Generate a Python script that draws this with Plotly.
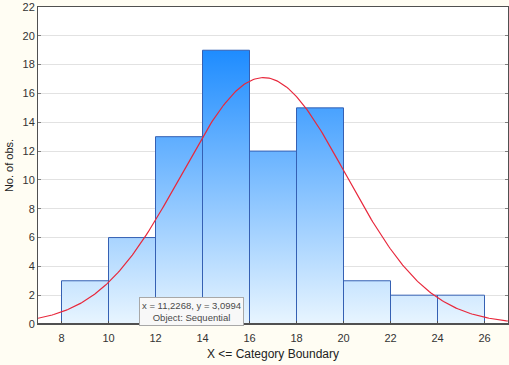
import numpy as np
import plotly.graph_objects as go

# ---- data ----
bin_edges = [8, 10, 12, 14, 16, 18, 20, 22, 24, 26]
counts = [3, 6, 13, 19, 12, 15, 3, 2, 2]
x_ticks = [8, 10, 12, 14, 16, 18, 20, 22, 24, 26]
y_ticks = [0, 2, 4, 6, 8, 10, 12, 14, 16, 18, 20, 22]
fit_mean = 16.6
fit_sd = 3.5
n_obs = sum(counts)
bin_width = 2
tooltip_x = 11.2268
tooltip_y = 3.0994

# bar outlines built from bin edges and counts
bx, by = [], []
for i, c in enumerate(counts):
    l, r = bin_edges[i], bin_edges[i + 1]
    bx += [l, l, r, r, l, None]
    by += [0, c, c, 0, 0, None]

# fitted normal curve
xc = np.linspace(7, 27, 300)
yc = n_obs * bin_width / (fit_sd * np.sqrt(2 * np.pi)) * np.exp(-0.5 * ((xc - fit_mean) / fit_sd) ** 2)

fig = go.Figure()
fig.add_trace(go.Scatter(
    x=bx, y=by, mode="lines", fill="toself",
    line=dict(color="#3560b3", width=1),
    fillgradient=dict(type="vertical", start=0, stop=max(counts),
                      colorscale=[[0, "#e8f5ff"], [1, "#1e8cff"]]),
    hoverinfo="skip", showlegend=False,
))
fig.add_trace(go.Scatter(
    x=xc, y=yc, mode="lines", line=dict(color="#e8283c", width=1.2),
    hoverinfo="skip", showlegend=False,
))

fig.add_annotation(
    x=11.3, y=1.85, xref="x", yref="y", xanchor="left", yanchor="top",
    text=f"x = {str(tooltip_x).replace('.', ',')}, y = {str(tooltip_y).replace('.', ',')}<br>Object: Sequential",
    showarrow=False, align="center",
    font=dict(family="Liberation Sans, Arial", size=9.5, color="#4a4a4a"),
    bgcolor="#f8f8f8", bordercolor="#a8a8a8", borderwidth=1, borderpad=2,
)

# thicker bottom axis line
fig.add_shape(type="line", xref="paper", yref="y", x0=0, x1=1, y0=0, y1=0,
              line=dict(color="#505050", width=2))

axis_font = dict(family="Liberation Sans, Arial", size=11, color="#333333")
fig.update_layout(
    width=509, height=365,
    margin=dict(l=38, r=1, t=7, b=41),
    paper_bgcolor="#fffdf3", plot_bgcolor="#ffffff",
    xaxis=dict(range=[7, 27], tickvals=x_ticks, showgrid=False, zeroline=False,
               showline=True, linecolor="#505050", linewidth=1, mirror=True,
               ticks="inside", ticklen=3, tickcolor="#505050",
               tickfont=axis_font, automargin=False, ticklabelstandoff=4,
               title=dict(text="X <= Category Boundary", font=dict(family="Liberation Sans, Arial", size=12, color="#222222"), standoff=6)),
    yaxis=dict(range=[0, 22], tickvals=y_ticks, showgrid=True, gridcolor="#e2e2e2", gridwidth=1,
               zeroline=False, showline=True, linecolor="#505050", linewidth=1, mirror="ticks",
               ticks="inside", ticklen=3, tickcolor="#808080",
               tickfont=axis_font, automargin=False,
               title=dict(text="No. of obs.", font=dict(family="Liberation Sans, Arial", size=11, color="#222222"), standoff=6)),
)

fig.write_html("out.html", config={"displayModeBar": False},
               post_script="document.body.style.margin='0';document.body.style.overflow='hidden';")
